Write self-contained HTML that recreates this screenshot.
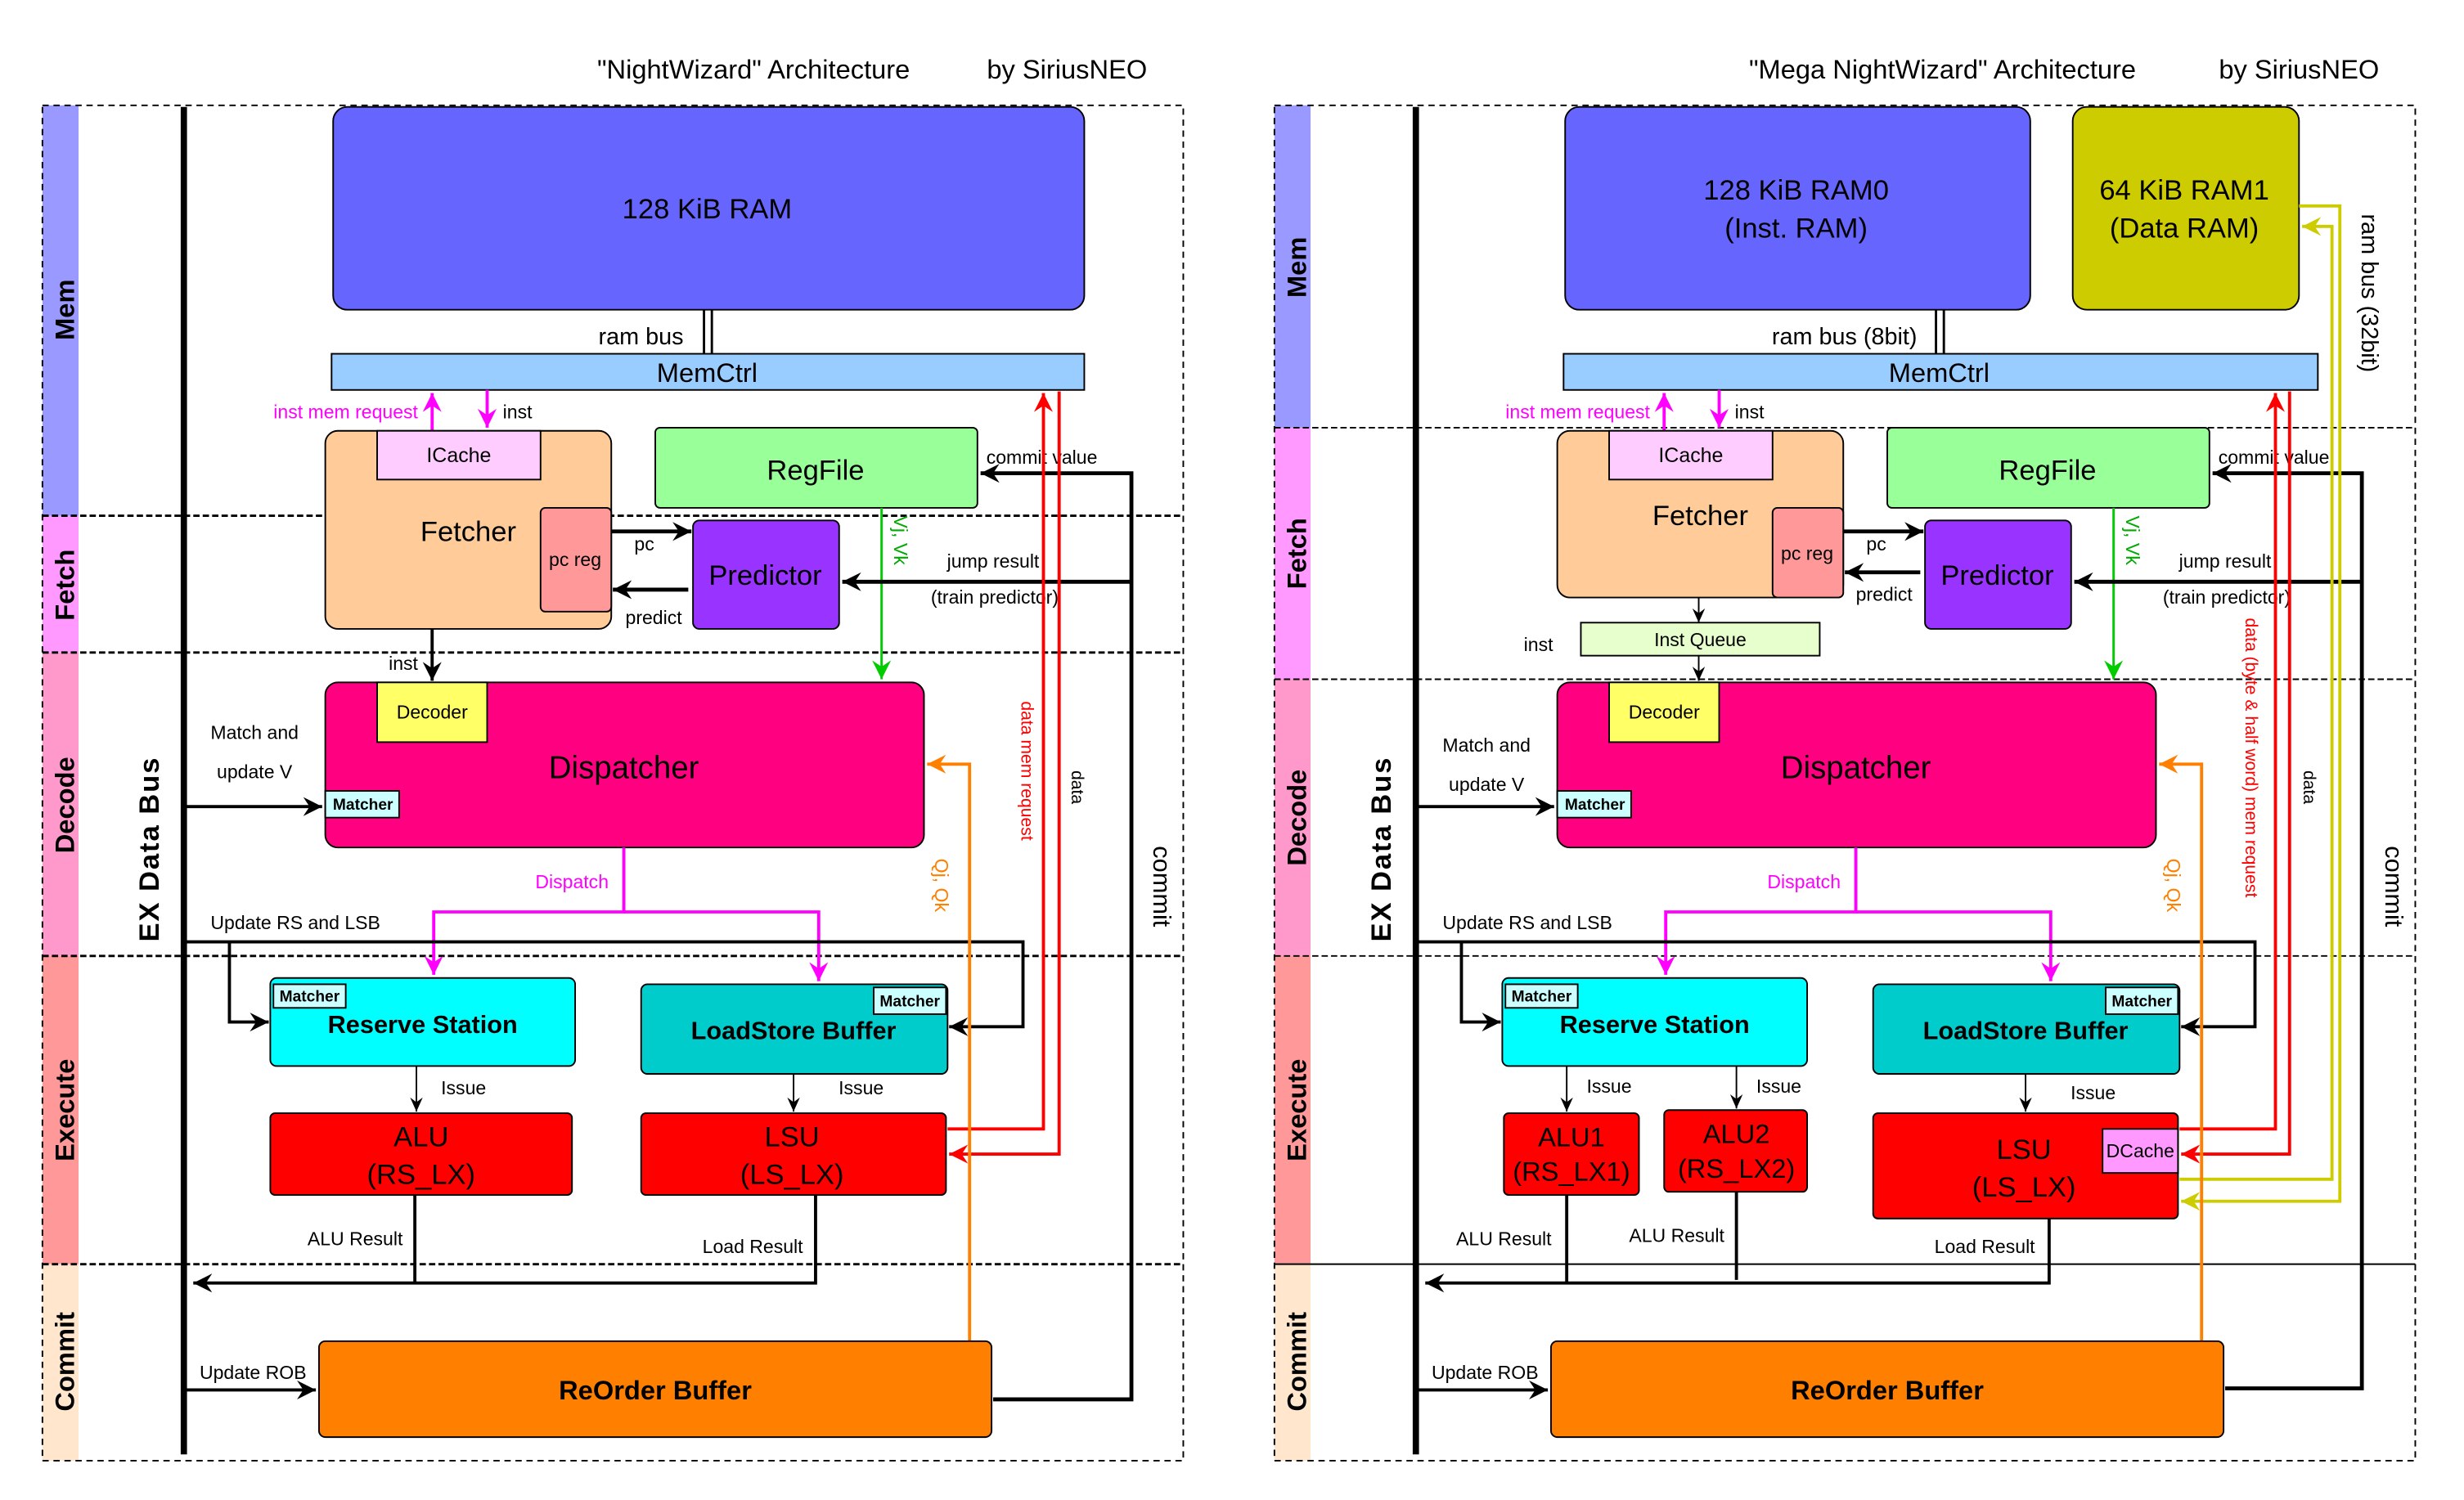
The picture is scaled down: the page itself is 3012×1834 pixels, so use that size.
<!DOCTYPE html>
<html><head><meta charset="utf-8"><style>
html,body{margin:0;padding:0;background:#fff}
svg{display:block}
text{font-family:"Liberation Sans",sans-serif;fill:#000}
</style></head><body>
<svg width="3012" height="1834" viewBox="0 0 1568 954" preserveAspectRatio="none" xmlns="http://www.w3.org/2000/svg">
<defs>
<marker id="ak" markerUnits="userSpaceOnUse" markerWidth="14" markerHeight="14" refX="12" refY="7" orient="auto"><path d="M0,1 L12,7 L0,13 L4,7 Z" fill="#000"/></marker>
<marker id="aks" markerUnits="userSpaceOnUse" markerWidth="10" markerHeight="10" refX="9" refY="5" orient="auto"><path d="M0,1 L9,5 L0,9 L3,5 Z" fill="#000"/></marker>
<marker id="am" markerUnits="userSpaceOnUse" markerWidth="14" markerHeight="14" refX="12" refY="7" orient="auto"><path d="M0,1 L12,7 L0,13 L4,7 Z" fill="#ff00ff"/></marker>
<marker id="ar" markerUnits="userSpaceOnUse" markerWidth="14" markerHeight="14" refX="12" refY="7" orient="auto"><path d="M0,1 L12,7 L0,13 L4,7 Z" fill="#ff0000"/></marker>
<marker id="ag" markerUnits="userSpaceOnUse" markerWidth="14" markerHeight="14" refX="12" refY="7" orient="auto"><path d="M0,1 L12,7 L0,13 L4,7 Z" fill="#00cc00"/></marker>
<marker id="ao" markerUnits="userSpaceOnUse" markerWidth="14" markerHeight="14" refX="12" refY="7" orient="auto"><path d="M0,1 L12,7 L0,13 L4,7 Z" fill="#ff8000"/></marker>
<marker id="ay" markerUnits="userSpaceOnUse" markerWidth="14" markerHeight="14" refX="12" refY="7" orient="auto"><path d="M0,1 L12,7 L0,13 L4,7 Z" fill="#cccc00"/></marker>
</defs>

<!-- ================= LEFT ================= -->
<text x="380" y="50" font-size="17">"NightWizard" Architecture</text>
<text x="628" y="50" font-size="17">by SiriusNEO</text>
<rect x="27" y="67" width="23" height="261" fill="#9999ff"/>
<rect x="27" y="328" width="23" height="87" fill="#ff99ff"/>
<rect x="27" y="415" width="23" height="193" fill="#ff99cc"/>
<rect x="27" y="608" width="23" height="196" fill="#ff9999"/>
<rect x="27" y="804" width="23" height="125" fill="#ffe6cc"/>
<rect x="27" y="67" width="726" height="862" fill="none" stroke="#000" stroke-dasharray="4,3" stroke-width="1"/>
<g stroke="#000" stroke-width="1.5" stroke-dasharray="4,2"><line x1="27" y1="328" x2="753" y2="328"/><line x1="27" y1="415" x2="753" y2="415"/><line x1="27" y1="608" x2="753" y2="608"/><line x1="27" y1="804" x2="753" y2="804"/></g>
<g font-size="17" font-weight="bold">
<text transform="translate(47,197) rotate(-90)" text-anchor="middle">Mem</text>
<text transform="translate(47,372) rotate(-90)" text-anchor="middle">Fetch</text>
<text transform="translate(47,512) rotate(-90)" text-anchor="middle">Decode</text>
<text transform="translate(47,706) rotate(-90)" text-anchor="middle">Execute</text>
<text transform="translate(47,866) rotate(-90)" text-anchor="middle">Commit</text>
</g>
<line x1="117" y1="68" x2="117" y2="925" stroke="#000" stroke-width="4"/>
<text transform="translate(101,540) rotate(-90)" text-anchor="middle" font-size="18" font-weight="bold" letter-spacing="1">EX Data Bus</text>

<rect x="212" y="68" width="478" height="129" rx="9" fill="#6666ff" stroke="#000"/>
<text x="450" y="139" font-size="18" text-anchor="middle">128 KiB RAM</text>
<line x1="448" y1="197" x2="448" y2="225" stroke="#000" stroke-width="1.5"/><line x1="453" y1="197" x2="453" y2="225" stroke="#000" stroke-width="1.5"/>
<text x="435" y="219" font-size="15" text-anchor="end">ram bus</text>
<rect x="211" y="225" width="479" height="23" fill="#99ccff" stroke="#000"/>
<text x="450" y="243" font-size="17" text-anchor="middle">MemCtrl</text>
<line x1="275" y1="274" x2="275" y2="250" stroke="#ff00ff" stroke-width="2" marker-end="url(#am)"/>
<line x1="310" y1="248" x2="310" y2="272" stroke="#ff00ff" stroke-width="2" marker-end="url(#am)"/>
<text x="266" y="266" font-size="12" text-anchor="end" style="fill:#ff00ff">inst mem request</text>
<text x="320" y="266" font-size="12">inst</text>

<rect x="207" y="274" width="182" height="126" rx="8" fill="#ffcc99" stroke="#000"/>
<rect x="240" y="274" width="104" height="31" fill="#ffccff" stroke="#000"/>
<text x="292" y="294" font-size="13" text-anchor="middle">ICache</text>
<text x="298" y="344" font-size="18" text-anchor="middle">Fetcher</text>
<rect x="344" y="323" width="45" height="66" rx="3" fill="#ff9999" stroke="#000"/>
<text x="366" y="360" font-size="12" text-anchor="middle">pc reg</text>
<rect x="417" y="272" width="205" height="51" rx="3" fill="#99ff99" stroke="#000"/>
<text x="519" y="305" font-size="18" text-anchor="middle">RegFile</text>
<rect x="441" y="331" width="93" height="69" rx="4" fill="#9933ff" stroke="#000"/>
<text x="487" y="372" font-size="18" text-anchor="middle">Predictor</text>
<line x1="389" y1="338" x2="440" y2="338" stroke="#000" stroke-width="2.5" marker-end="url(#ak)"/>
<text x="410" y="350" font-size="12" text-anchor="middle">pc</text>
<line x1="438" y1="375" x2="390" y2="375" stroke="#000" stroke-width="2.5" marker-end="url(#ak)"/>
<text x="416" y="397" font-size="12" text-anchor="middle">predict</text>
<line x1="275" y1="400" x2="275" y2="433" stroke="#000" stroke-width="2" marker-end="url(#ak)"/>
<text x="266" y="426" font-size="12" text-anchor="end">inst</text>
<line x1="561" y1="323" x2="561" y2="432" stroke="#00cc00" stroke-width="1.5" marker-end="url(#ag)"/>
<text transform="translate(569,328) rotate(90)" font-size="12" style="fill:#00aa00">Vj, Vk</text>

<polyline points="632,890 720,890 720,301 624,301" fill="none" stroke="#000" stroke-width="2.5" marker-end="url(#ak)"/>
<polyline points="720,370 536,370" fill="none" stroke="#000" stroke-width="2.5" marker-end="url(#ak)"/>
<text x="663" y="295" font-size="12" text-anchor="middle">commit value</text>
<text x="632" y="361" font-size="12" text-anchor="middle">jump result</text>
<text x="633" y="384" font-size="12" text-anchor="middle">(train predictor)</text>
<polyline points="603,718 664,718 664,250" fill="none" stroke="#ff0000" stroke-width="2" marker-end="url(#ar)"/>
<polyline points="674,249 674,734 604,734" fill="none" stroke="#ff0000" stroke-width="2" marker-end="url(#ar)"/>
<text transform="translate(650,446) rotate(90)" font-size="11" style="fill:#ff0000">data mem request</text>
<text transform="translate(682,490) rotate(90)" font-size="11">data</text>
<text transform="translate(734,538) rotate(90)" font-size="16">commit</text>

<rect x="207" y="434" width="381" height="105" rx="8" fill="#ff0080" stroke="#000"/>
<rect x="240" y="434" width="70" height="38" fill="#ffff66" stroke="#000"/>
<text x="275" y="457" font-size="12" text-anchor="middle">Decoder</text>
<text x="397" y="495" font-size="20" text-anchor="middle">Dispatcher</text>
<rect x="207" y="503" width="47" height="17" fill="#ccffff" stroke="#000"/>
<text x="231" y="515" font-size="10" font-weight="bold" text-anchor="middle">Matcher</text>
<line x1="117" y1="513" x2="205" y2="513" stroke="#000" stroke-width="2" marker-end="url(#ak)"/>
<text x="162" y="470" font-size="12" text-anchor="middle">Match and</text>
<text x="162" y="495" font-size="12" text-anchor="middle">update V</text>
<polyline points="397,539 397,580 276,580 276,620" fill="none" stroke="#ff00ff" stroke-width="2" marker-end="url(#am)"/>
<polyline points="397,580 521,580 521,624" fill="none" stroke="#ff00ff" stroke-width="2" marker-end="url(#am)"/>
<text x="364" y="565" font-size="12" text-anchor="middle" style="fill:#ff00ff">Dispatch</text>
<polyline points="117,599 651,599 651,653 604,653" fill="none" stroke="#000" stroke-width="2" marker-end="url(#ak)"/>
<polyline points="146,599 146,650 171,650" fill="none" stroke="#000" stroke-width="2" marker-end="url(#ak)"/>
<text x="188" y="591" font-size="12" text-anchor="middle">Update RS and LSB</text>
<polyline points="617,853 617,486 590,486" fill="none" stroke="#ff8000" stroke-width="2" marker-end="url(#ao)"/>
<text transform="translate(595,546) rotate(90)" font-size="12" style="fill:#ff8000">Qj, Qk</text>

<rect x="172" y="622" width="194" height="56" rx="4" fill="#00ffff" stroke="#000"/>
<rect x="174" y="626" width="46" height="15" fill="#ccffff" stroke="#000"/>
<text x="197" y="637" font-size="10" font-weight="bold" text-anchor="middle">Matcher</text>
<text x="269" y="657" font-size="16" font-weight="bold" text-anchor="middle">Reserve Station</text>
<rect x="408" y="626" width="195" height="57" rx="4" fill="#00cccc" stroke="#000"/>
<rect x="556" y="628" width="46" height="17" fill="#ccffff" stroke="#000"/>
<text x="579" y="640" font-size="10" font-weight="bold" text-anchor="middle">Matcher</text>
<text x="505" y="661" font-size="16" font-weight="bold" text-anchor="middle">LoadStore Buffer</text>
<line x1="265" y1="678" x2="265" y2="707" stroke="#000" stroke-width="1" marker-end="url(#aks)"/>
<text x="295" y="696" font-size="12" text-anchor="middle">Issue</text>
<line x1="505" y1="683" x2="505" y2="707" stroke="#000" stroke-width="1" marker-end="url(#aks)"/>
<text x="548" y="696" font-size="12" text-anchor="middle">Issue</text>
<rect x="172" y="708" width="192" height="52" rx="3" fill="#ff0000" stroke="#000"/>
<text x="268" y="729" font-size="18" text-anchor="middle">ALU</text>
<text x="268" y="753" font-size="18" text-anchor="middle">(RS_LX)</text>
<rect x="408" y="708" width="194" height="52" rx="3" fill="#ff0000" stroke="#000"/>
<text x="504" y="729" font-size="18" text-anchor="middle">LSU</text>
<text x="504" y="753" font-size="18" text-anchor="middle">(LS_LX)</text>
<line x1="264" y1="760" x2="264" y2="816" stroke="#000" stroke-width="2"/>
<polyline points="519,760 519,816 123,816" fill="none" stroke="#000" stroke-width="2" marker-end="url(#ak)"/>
<text x="226" y="792" font-size="12" text-anchor="middle">ALU Result</text>
<text x="479" y="797" font-size="12" text-anchor="middle">Load Result</text>
<rect x="203" y="853" width="428" height="61" rx="4" fill="#ff8000" stroke="#000"/>
<text x="417" y="890" font-size="17" font-weight="bold" text-anchor="middle">ReOrder Buffer</text>
<line x1="117" y1="884" x2="201" y2="884" stroke="#000" stroke-width="2" marker-end="url(#ak)"/>
<text x="161" y="877" font-size="12" text-anchor="middle">Update ROB</text>

<!-- ================= RIGHT ================= -->
<text x="1113" y="50" font-size="17">"Mega NightWizard" Architecture</text>
<text x="1412" y="50" font-size="17">by SiriusNEO</text>
<rect x="811" y="67" width="23" height="205" fill="#9999ff"/>
<rect x="811" y="272" width="23" height="160" fill="#ff99ff"/>
<rect x="811" y="432" width="23" height="176" fill="#ff99cc"/>
<rect x="811" y="608" width="23" height="196" fill="#ff9999"/>
<rect x="811" y="804" width="23" height="125" fill="#ffe6cc"/>
<rect x="811" y="67" width="726" height="862" fill="none" stroke="#000" stroke-dasharray="4,3" stroke-width="1"/>
<g stroke="#000" stroke-width="1" stroke-dasharray="4,2"><line x1="811" y1="272" x2="1537" y2="272"/><line x1="811" y1="432" x2="1537" y2="432"/><line x1="811" y1="608" x2="1537" y2="608"/></g>
<line x1="811" y1="804" x2="1537" y2="804" stroke="#000" stroke-width="1"/>
<g font-size="17" font-weight="bold">
<text transform="translate(831,170) rotate(-90)" text-anchor="middle">Mem</text>
<text transform="translate(831,352) rotate(-90)" text-anchor="middle">Fetch</text>
<text transform="translate(831,520) rotate(-90)" text-anchor="middle">Decode</text>
<text transform="translate(831,706) rotate(-90)" text-anchor="middle">Execute</text>
<text transform="translate(831,866) rotate(-90)" text-anchor="middle">Commit</text>
</g>
<line x1="901" y1="68" x2="901" y2="925" stroke="#000" stroke-width="4"/>
<text transform="translate(885,540) rotate(-90)" text-anchor="middle" font-size="18" font-weight="bold" letter-spacing="1">EX Data Bus</text>

<rect x="996" y="68" width="296" height="129" rx="9" fill="#6666ff" stroke="#000"/>
<text x="1143" y="127" font-size="18" text-anchor="middle">128 KiB RAM0</text>
<text x="1143" y="151" font-size="18" text-anchor="middle">(Inst. RAM)</text>
<rect x="1319" y="68" width="144" height="129" rx="9" fill="#cccc00" stroke="#000"/>
<text x="1390" y="127" font-size="18" text-anchor="middle">64 KiB RAM1</text>
<text x="1390" y="151" font-size="18" text-anchor="middle">(Data RAM)</text>
<line x1="1232" y1="197" x2="1232" y2="225" stroke="#000" stroke-width="1.5"/><line x1="1237" y1="197" x2="1237" y2="225" stroke="#000" stroke-width="1.5"/>
<text x="1220" y="219" font-size="15" text-anchor="end">ram bus (8bit)</text>
<rect x="995" y="225" width="480" height="23" fill="#99ccff" stroke="#000"/>
<text x="1234" y="243" font-size="17" text-anchor="middle">MemCtrl</text>
<line x1="1059" y1="274" x2="1059" y2="250" stroke="#ff00ff" stroke-width="2" marker-end="url(#am)"/>
<line x1="1094" y1="248" x2="1094" y2="272" stroke="#ff00ff" stroke-width="2" marker-end="url(#am)"/>
<text x="1050" y="266" font-size="12" text-anchor="end" style="fill:#ff00ff">inst mem request</text>
<text x="1104" y="266" font-size="12">inst</text>

<rect x="991" y="274" width="182" height="106" rx="8" fill="#ffcc99" stroke="#000"/>
<rect x="1024" y="274" width="104" height="31" fill="#ffccff" stroke="#000"/>
<text x="1076" y="294" font-size="13" text-anchor="middle">ICache</text>
<text x="1082" y="334" font-size="18" text-anchor="middle">Fetcher</text>
<rect x="1128" y="323" width="45" height="57" rx="3" fill="#ff9999" stroke="#000"/>
<text x="1150" y="356" font-size="12" text-anchor="middle">pc reg</text>
<rect x="1201" y="272" width="205" height="51" rx="3" fill="#99ff99" stroke="#000"/>
<text x="1303" y="305" font-size="18" text-anchor="middle">RegFile</text>
<rect x="1225" y="331" width="93" height="69" rx="4" fill="#9933ff" stroke="#000"/>
<text x="1271" y="372" font-size="18" text-anchor="middle">Predictor</text>
<line x1="1173" y1="338" x2="1224" y2="338" stroke="#000" stroke-width="2.5" marker-end="url(#ak)"/>
<text x="1194" y="350" font-size="12" text-anchor="middle">pc</text>
<line x1="1222" y1="364" x2="1174" y2="364" stroke="#000" stroke-width="2.5" marker-end="url(#ak)"/>
<text x="1199" y="382" font-size="12" text-anchor="middle">predict</text>
<line x1="1081" y1="380" x2="1081" y2="396" stroke="#000" stroke-width="1" marker-end="url(#aks)"/>
<rect x="1006" y="396" width="152" height="21" fill="#e6ffcc" stroke="#000"/>
<text x="1082" y="411" font-size="12" text-anchor="middle">Inst Queue</text>
<line x1="1081" y1="417" x2="1081" y2="433" stroke="#000" stroke-width="1" marker-end="url(#aks)"/>
<text x="979" y="414" font-size="12" text-anchor="middle">inst</text>
<line x1="1345" y1="323" x2="1345" y2="432" stroke="#00cc00" stroke-width="1.5" marker-end="url(#ag)"/>
<text transform="translate(1353,328) rotate(90)" font-size="12" style="fill:#00aa00">Vj, Vk</text>

<polyline points="1416,883 1503,883 1503,301 1408,301" fill="none" stroke="#000" stroke-width="2.5" marker-end="url(#ak)"/>
<polyline points="1503,370 1320,370" fill="none" stroke="#000" stroke-width="2.5" marker-end="url(#ak)"/>
<text x="1447" y="295" font-size="12" text-anchor="middle">commit value</text>
<text x="1416" y="361" font-size="12" text-anchor="middle">jump result</text>
<text x="1417" y="384" font-size="12" text-anchor="middle">(train predictor)</text>
<polyline points="1463,131 1489,131 1489,764 1388,764" fill="none" stroke="#cccc00" stroke-width="2" marker-end="url(#ay)"/>
<polyline points="1387,750 1484,750 1484,144 1465,144" fill="none" stroke="#cccc00" stroke-width="2" marker-end="url(#ay)"/>
<text transform="translate(1503,136) rotate(90)" font-size="15">ram bus (32bit)</text>
<polyline points="1387,718 1448,718 1448,250" fill="none" stroke="#ff0000" stroke-width="2" marker-end="url(#ar)"/>
<polyline points="1457,249 1457,734 1388,734" fill="none" stroke="#ff0000" stroke-width="2" marker-end="url(#ar)"/>
<text transform="translate(1429,393) rotate(90)" font-size="11" style="fill:#ff0000">data (byte &amp; half word) mem request</text>
<text transform="translate(1466,490) rotate(90)" font-size="11">data</text>
<text transform="translate(1518,538) rotate(90)" font-size="16">commit</text>

<rect x="991" y="434" width="381" height="105" rx="8" fill="#ff0080" stroke="#000"/>
<rect x="1024" y="434" width="70" height="38" fill="#ffff66" stroke="#000"/>
<text x="1059" y="457" font-size="12" text-anchor="middle">Decoder</text>
<text x="1181" y="495" font-size="20" text-anchor="middle">Dispatcher</text>
<rect x="991" y="503" width="47" height="17" fill="#ccffff" stroke="#000"/>
<text x="1015" y="515" font-size="10" font-weight="bold" text-anchor="middle">Matcher</text>
<line x1="901" y1="513" x2="989" y2="513" stroke="#000" stroke-width="2" marker-end="url(#ak)"/>
<text x="946" y="478" font-size="12" text-anchor="middle">Match and</text>
<text x="946" y="503" font-size="12" text-anchor="middle">update V</text>
<polyline points="1181,539 1181,580 1060,580 1060,620" fill="none" stroke="#ff00ff" stroke-width="2" marker-end="url(#am)"/>
<polyline points="1181,580 1305,580 1305,624" fill="none" stroke="#ff00ff" stroke-width="2" marker-end="url(#am)"/>
<text x="1148" y="565" font-size="12" text-anchor="middle" style="fill:#ff00ff">Dispatch</text>
<polyline points="901,599 1435,599 1435,653 1388,653" fill="none" stroke="#000" stroke-width="2" marker-end="url(#ak)"/>
<polyline points="930,599 930,650 955,650" fill="none" stroke="#000" stroke-width="2" marker-end="url(#ak)"/>
<text x="972" y="591" font-size="12" text-anchor="middle">Update RS and LSB</text>
<polyline points="1401,853 1401,486 1374,486" fill="none" stroke="#ff8000" stroke-width="2" marker-end="url(#ao)"/>
<text transform="translate(1379,546) rotate(90)" font-size="12" style="fill:#ff8000">Qj, Qk</text>

<rect x="956" y="622" width="194" height="56" rx="4" fill="#00ffff" stroke="#000"/>
<rect x="958" y="626" width="46" height="15" fill="#ccffff" stroke="#000"/>
<text x="981" y="637" font-size="10" font-weight="bold" text-anchor="middle">Matcher</text>
<text x="1053" y="657" font-size="16" font-weight="bold" text-anchor="middle">Reserve Station</text>
<rect x="1192" y="626" width="195" height="57" rx="4" fill="#00cccc" stroke="#000"/>
<rect x="1340" y="628" width="46" height="17" fill="#ccffff" stroke="#000"/>
<text x="1363" y="640" font-size="10" font-weight="bold" text-anchor="middle">Matcher</text>
<text x="1289" y="661" font-size="16" font-weight="bold" text-anchor="middle">LoadStore Buffer</text>
<line x1="997" y1="678" x2="997" y2="707" stroke="#000" stroke-width="1" marker-end="url(#aks)"/>
<text x="1024" y="695" font-size="12" text-anchor="middle">Issue</text>
<line x1="1105" y1="678" x2="1105" y2="705" stroke="#000" stroke-width="1" marker-end="url(#aks)"/>
<text x="1132" y="695" font-size="12" text-anchor="middle">Issue</text>
<line x1="1289" y1="683" x2="1289" y2="707" stroke="#000" stroke-width="1" marker-end="url(#aks)"/>
<text x="1332" y="699" font-size="12" text-anchor="middle">Issue</text>
<rect x="957" y="708" width="86" height="52" rx="3" fill="#ff0000" stroke="#000"/>
<text x="1000" y="729" font-size="17" text-anchor="middle">ALU1</text>
<text x="1000" y="751" font-size="17" text-anchor="middle">(RS_LX1)</text>
<rect x="1059" y="706" width="91" height="52" rx="3" fill="#ff0000" stroke="#000"/>
<text x="1105" y="727" font-size="17" text-anchor="middle">ALU2</text>
<text x="1105" y="749" font-size="17" text-anchor="middle">(RS_LX2)</text>
<rect x="1192" y="708" width="194" height="67" rx="3" fill="#ff0000" stroke="#000"/>
<rect x="1338" y="718" width="48" height="28" fill="#ff99ff" stroke="#000"/>
<text x="1362" y="736" font-size="12" text-anchor="middle">DCache</text>
<text x="1288" y="737" font-size="18" text-anchor="middle">LSU</text>
<text x="1288" y="761" font-size="18" text-anchor="middle">(LS_LX)</text>
<line x1="997" y1="760" x2="997" y2="816" stroke="#000" stroke-width="2"/>
<line x1="1105" y1="758" x2="1105" y2="814" stroke="#000" stroke-width="2"/>
<polyline points="1304,775 1304,816 907,816" fill="none" stroke="#000" stroke-width="2" marker-end="url(#ak)"/>
<text x="957" y="792" font-size="12" text-anchor="middle">ALU Result</text>
<text x="1067" y="790" font-size="12" text-anchor="middle">ALU Result</text>
<text x="1263" y="797" font-size="12" text-anchor="middle">Load Result</text>
<rect x="987" y="853" width="428" height="61" rx="4" fill="#ff8000" stroke="#000"/>
<text x="1201" y="890" font-size="17" font-weight="bold" text-anchor="middle">ReOrder Buffer</text>
<line x1="901" y1="884" x2="985" y2="884" stroke="#000" stroke-width="2" marker-end="url(#ak)"/>
<text x="945" y="877" font-size="12" text-anchor="middle">Update ROB</text>
</svg>
</body></html>
